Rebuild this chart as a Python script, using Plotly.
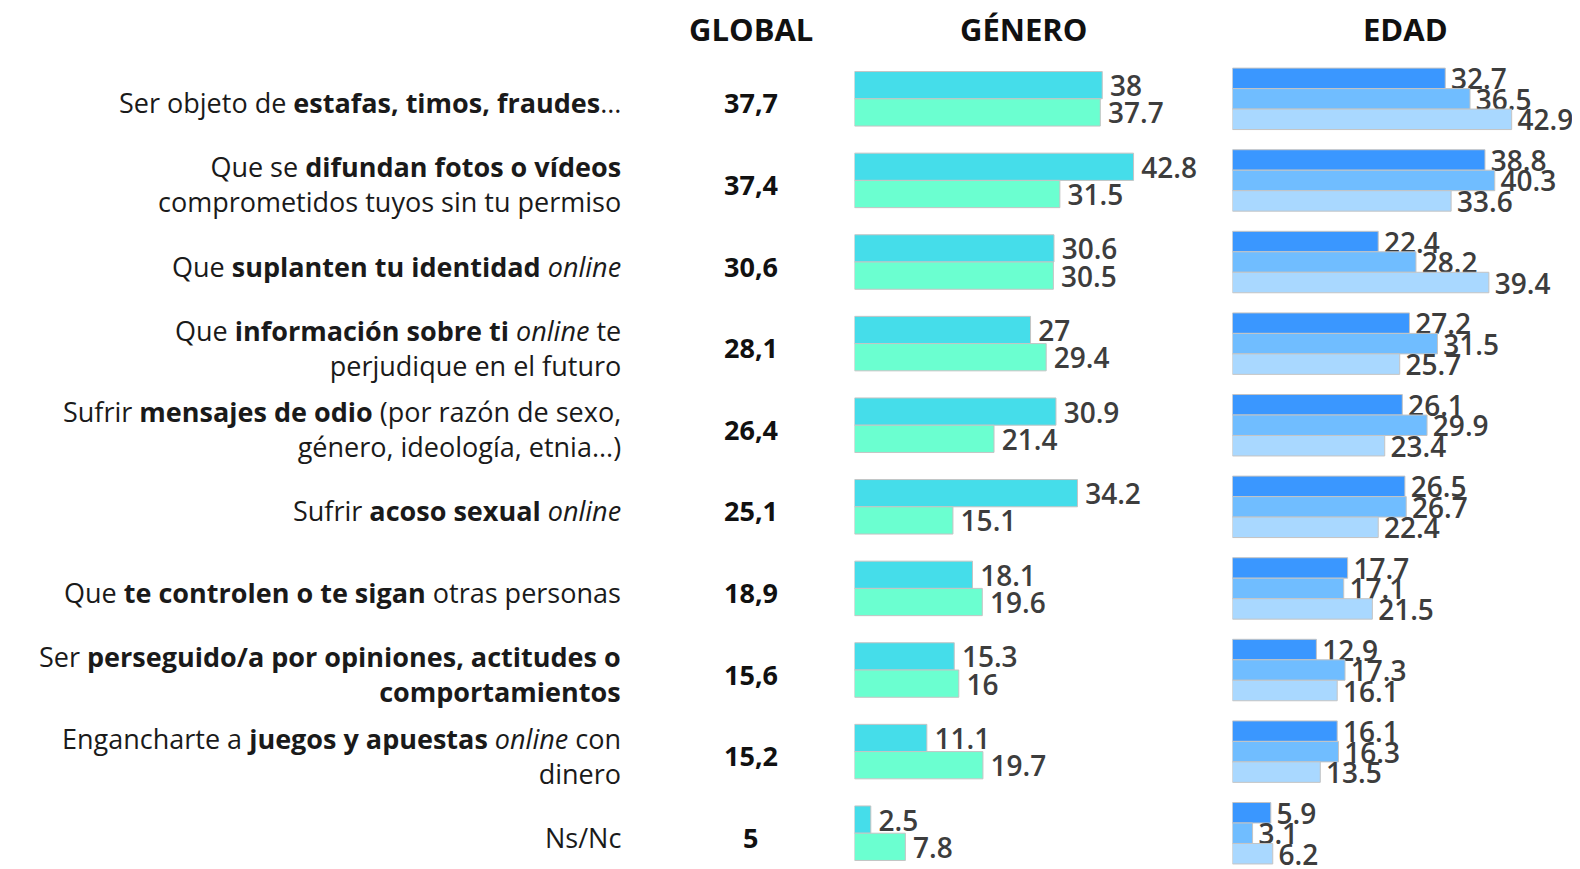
import plotly.graph_objects as go

categories = [
    "Ser objeto de <b>estafas, timos, fraudes</b>...",
    "Que se <b>difundan fotos o vídeos</b><br>comprometidos tuyos sin tu permiso",
    "Que <b>suplanten tu identidad</b> <i>online</i>",
    "Que <b>información sobre ti</b> <i>online</i> te<br>perjudique en el futuro",
    "Sufrir <b>mensajes de odio</b> (por razón de sexo,<br>género, ideología, etnia...)",
    "Sufrir <b>acoso sexual</b> <i>online</i>",
    "Que <b>te controlen o te sigan</b> otras personas",
    "Ser <b>perseguido/a por opiniones, actitudes o<br>comportamientos</b>",
    "Engancharte a <b>juegos y apuestas</b> <i>online</i> con<br>dinero",
    "Ns/Nc",
]
global_vals = [37.7, 37.4, 30.6, 28.1, 26.4, 25.1, 18.9, 15.6, 15.2, 5]
genero_a = [38, 42.8, 30.6, 27, 30.9, 34.2, 18.1, 15.3, 11.1, 2.5]
genero_b = [37.7, 31.5, 30.5, 29.4, 21.4, 15.1, 19.6, 16, 19.7, 7.8]
edad_a = [32.7, 38.8, 22.4, 27.2, 26.1, 26.5, 17.7, 12.9, 16.1, 5.9]
edad_b = [36.5, 40.3, 28.2, 31.5, 29.9, 26.7, 17.1, 17.3, 16.3, 3.1]
edad_c = [42.9, 33.6, 39.4, 25.7, 23.4, 22.4, 21.5, 16.1, 13.5, 6.2]
headers = ["GLOBAL", "GÉNERO", "EDAD"]

# page body has an 8px margin: figure is sized to fit the window
OFF = 8
W, H = 1580 - OFF, 869 - OFF
FONT = "Open Sans"
pos = list(range(len(categories)))


def fmt(v):
    return f"{v:g}"


def bar(vals, color, xa, width, offset, pad):
    return go.Bar(
        x=vals, y=pos, orientation="h", xaxis=xa, yaxis="y",
        width=width, offset=offset,
        marker=dict(color=color, line=dict(color="#c4c4c4", width=1)),
        text=[pad + fmt(v) for v in vals], textposition="outside",
        constraintext="none", cliponaxis=False,
        textfont=dict(family=FONT, size=28, color="#3d3d3d", weight=600),
        hoverinfo="skip", showlegend=False,
    )


fig = go.Figure()
fig.add_trace(bar(genero_a, "#45DDEA", "x", 0.334, -0.334, "\u2009"))
fig.add_trace(bar(genero_b, "#6BFFD0", "x", 0.334, 0.0, "\u2009"))
fig.add_trace(bar(edad_a, "#3A97FF", "x2", 0.251, -0.376, "\u200a"))
fig.add_trace(bar(edad_b, "#70BDFF", "x2", 0.251, -0.125, "\u200a"))
fig.add_trace(bar(edad_c, "#A9D8FF", "x2", 0.251, 0.126, "\u200a"))

ann = []
for i, (c, g) in enumerate(zip(categories, global_vals)):
    ann.append(dict(x=(622.5 - OFF) / W, xref="paper", y=i, yref="y", text=c,
                    xanchor="right", yanchor="middle", align="right",
                    showarrow=False, yshift=-4,
                    font=dict(family=FONT, size=27, color="#1a1a1a")))
    ann.append(dict(x=(750.5 - OFF) / W, xref="paper", y=i, yref="y",
                    text="<b>" + fmt(g).replace(".", ",") + "</b>",
                    xanchor="center", yanchor="middle", showarrow=False,
                    yshift=-4, font=dict(family=FONT, size=27, color="#111111")))
for h, xc in zip(headers, [750.5, 1023.8, 1405.7]):
    ann.append(dict(x=(xc - OFF) / W, xref="paper", y=1 - (28.5 - OFF) / H,
                    yref="paper",
                    text="<b>" + h + "</b>", xanchor="center", yanchor="middle",
                    showarrow=False,
                    font=dict(family=FONT, size=31, color="#111111")))

# row geometry (full-page pixels): row 0 centre 98.8, spacing 81.6
row0 = 98.8 - OFF
step = 81.6
y_top = 0 - row0 / step
y_bot = (H - row0) / step

ax_common = dict(range=[0, 50], visible=False, showgrid=False, zeroline=False,
                 fixedrange=True)
gx0 = 854.5 - OFF
ax0 = 1232.4 - OFF
fig.update_layout(
    width=W, height=H,
    margin=dict(l=0, r=0, t=0, b=0),
    paper_bgcolor="white", plot_bgcolor="white",
    barmode="overlay",
    xaxis=dict(domain=[gx0 / W, (gx0 + 50 * 6.52) / W], anchor="y", **ax_common),
    xaxis2=dict(domain=[ax0 / W, (ax0 + 50 * 6.51) / W], anchor="y", **ax_common),
    yaxis=dict(domain=[0, 1], range=[y_bot, y_top],
               visible=False, showgrid=False, zeroline=False, fixedrange=True),
    annotations=ann,
    font=dict(family=FONT),
)

fig.write_html("out.html")
